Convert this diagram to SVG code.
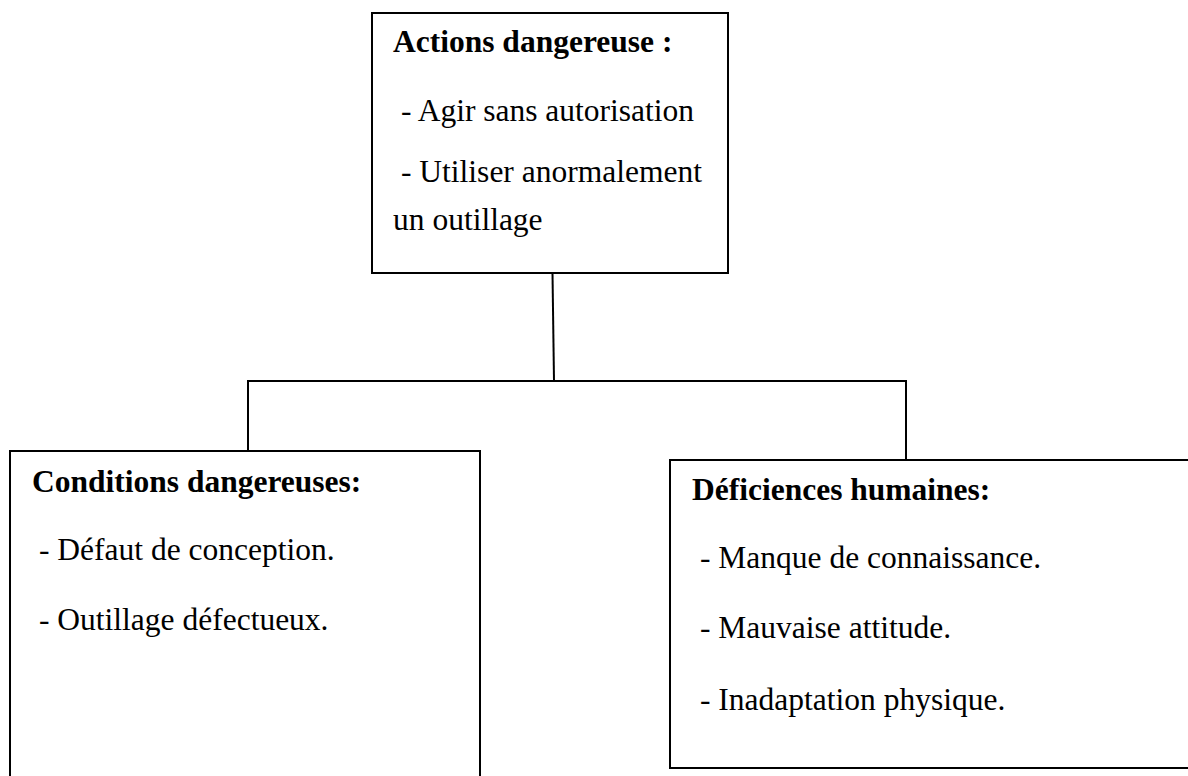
<svg xmlns="http://www.w3.org/2000/svg" width="1188" height="776" viewBox="0 0 1188 776">
  <style>
    .box { fill: #ffffff; stroke: #000000; stroke-width: 2; }
    .link { fill: none; stroke: #000000; stroke-width: 2; }
    text { font-family: "Liberation Serif", "Times New Roman", serif; font-size: 31.5px; fill: #000000; }
    .title { font-weight: bold; }
  </style>
  <rect width="1188" height="776" fill="#ffffff"/>

  <!-- tree connectors -->
  <g id="connectors">
    <path class="link" d="M552.5,273 L554,381"/>
    <path class="link" d="M248,451 V381 H906 V460"/>
  </g>

  <!-- root: unsafe actions -->
  <g id="actions">
    <rect class="box" x="372" y="13" width="356" height="260"/>
    <text class="title" x="393" y="52">Actions dangereuse :</text>
    <text x="401" y="121">- Agir sans autorisation</text>
    <text x="401" y="182">- Utiliser anormalement</text>
    <text x="393" y="230">un outillage</text>
  </g>

  <!-- left child: unsafe conditions -->
  <g id="conditions">
    <rect class="box" x="10" y="451" width="470" height="360"/>
    <text class="title" x="32" y="492">Conditions dangereuses:</text>
    <text x="39" y="560">- Défaut de conception.</text>
    <text x="39" y="630">- Outillage défectueux.</text>
  </g>

  <!-- right child: human shortcomings -->
  <g id="deficiences">
    <rect class="box" x="670" y="460" width="540" height="308"/>
    <text class="title" x="692" y="500">Déficiences humaines:</text>
    <text x="700" y="568">- Manque de connaissance.</text>
    <text x="700" y="638">- Mauvaise attitude.</text>
    <text x="700" y="710">- Inadaptation physique.</text>
  </g>
</svg>
